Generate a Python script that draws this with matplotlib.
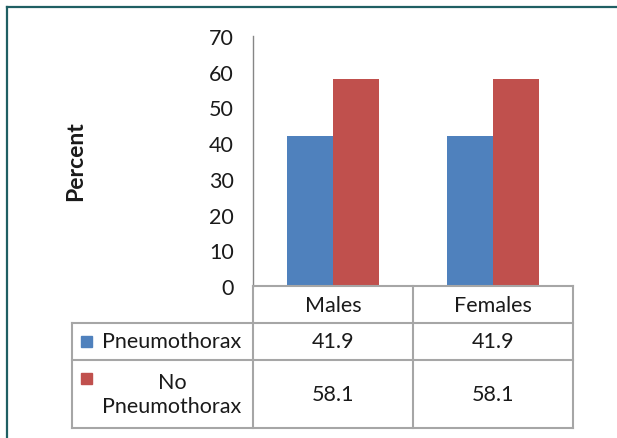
import matplotlib.pyplot as plt
from matplotlib.lines import Line2D
from matplotlib.patches import Rectangle
import numpy as np

plt.rcParams['font.family'] = ['Lato', 'DejaVu Sans']

categories = ['Males', 'Females']
series_names = ['Pneumothorax', 'No\nPneumothorax']
pneumothorax = [41.9, 41.9]
no_pneumothorax = [58.1, 58.1]
colors = ['#4f81bd', '#c0504d']
yticks = [0, 10, 20, 30, 40, 50, 60, 70]

W, H = 617, 439
fig = plt.figure(figsize=(W / 100, H / 100), dpi=100)
fig.patch.set_facecolor('white')
fs = 15.5
txt = '#1a1a1a'


def fx(x):
    return x / W


def fy(y):
    return 1 - y / H


# outer frame (only top and left edges fall inside the image)
fig.add_artist(Line2D([fx(7), fx(W + 5)], [fy(8), fy(8)], color='#1f5f63', lw=1.6))
fig.add_artist(Line2D([fx(7), fx(7)], [fy(8), fy(H + 5)], color='#1f5f63', lw=1.6))

# plot area
left, right, top, bottom = 253, 573, 37, 287
ax = fig.add_axes([fx(left), fy(bottom), fx(right - left), (bottom - top) / H])
x = np.arange(len(categories))
w = 1 / 3.5
ax.bar(x - w / 2, pneumothorax, w, color=colors[0])
ax.bar(x + w / 2, no_pneumothorax, w, color=colors[1])
ax.set_xlim(-0.5, len(categories) - 0.5)
ax.set_ylim(0, 70)
ax.set_yticks(yticks)
ax.set_xticks([])
ax.tick_params(axis='y', length=0, pad=14, labelsize=fs, colors=txt)
for s in ['top', 'right', 'bottom']:
    ax.spines[s].set_visible(False)
ax.spines['left'].set_color('#868686')
ax.spines['left'].set_linewidth(1.0)
ax.set_facecolor('none')

fig.text(fx(76), fy(161), 'Percent', rotation=90, fontsize=16.5, fontweight='bold',
         ha='center', va='center', color=txt)

# data table under the plot
grid = '#a6a6a6'
col_edges = [253, 413, 573]
row_edges = [287, 324, 361, 429]
tleft = 72


def hline(x0, x1, y):
    fig.add_artist(Line2D([fx(x0), fx(x1)], [fy(y), fy(y)], color=grid, lw=1.5))


def vline(x, y0, y1):
    fig.add_artist(Line2D([fx(x), fx(x)], [fy(y0), fy(y1)], color=grid, lw=1.5))


hline(col_edges[0], col_edges[-1], row_edges[0])
for y in row_edges[1:]:
    hline(tleft, col_edges[-1], y)
for xe in col_edges:
    vline(xe, row_edges[0], row_edges[-1])
vline(tleft, row_edges[1], row_edges[-1])

for i, cat in enumerate(categories):
    cx = (col_edges[i] + col_edges[i + 1]) / 2
    fig.text(fx(cx), fy((row_edges[0] + row_edges[1]) / 2), cat, fontsize=fs,
             ha='center', va='center', color=txt)
    for r, vals in enumerate([pneumothorax, no_pneumothorax]):
        cy = (row_edges[r + 1] + row_edges[r + 2]) / 2
        fig.text(fx(cx), fy(cy), f'{vals[i]:.1f}', fontsize=fs,
                 ha='center', va='center', color=txt)

# legend keys and series names
for r, name in enumerate(series_names):
    y0, y1 = row_edges[r + 1], row_edges[r + 2]
    sq_top = y0 + 13
    fig.add_artist(Rectangle((fx(81), fy(sq_top + 11)), fx(11), 11 / H,
                             color=colors[r], transform=fig.transFigure))
    fig.text(fx(172), fy((y0 + y1) / 2), name, fontsize=fs, ha='center',
             va='center', color=txt, linespacing=1.25)

fig.savefig('out.png', dpi=100)
